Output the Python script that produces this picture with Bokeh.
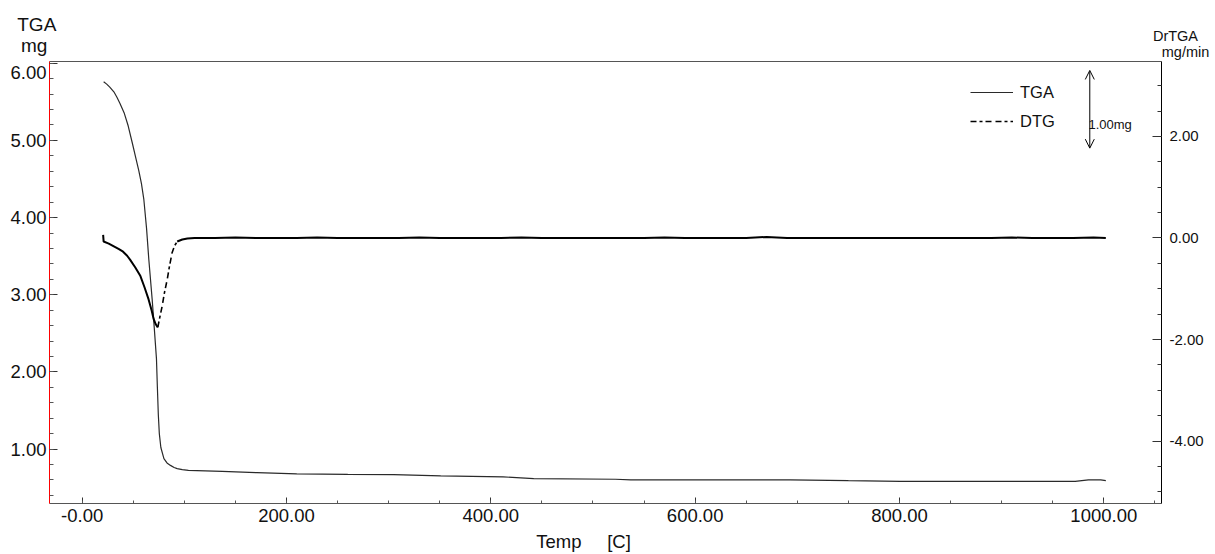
from bokeh.plotting import figure
from bokeh.models import (Range1d, LinearAxis, FixedTicker, SingleIntervalTicker, GridBox,
                          PrintfTickFormatter, Label, Legend, LegendItem, Arrow, OpenHead)
from bokeh.embed import file_html
from bokeh.resources import INLINE

# ---------------- data ----------------
tga_temp = [21, 24, 27, 31, 34, 37, 41, 45, 49, 52, 55.4, 58, 60.3, 63, 65.2, 68.5, 70.5, 72.7,
            73.6, 74.5, 75.5, 77, 80, 83, 86.4, 90, 93, 98, 104, 137, 171, 210, 260, 305, 351,
            412, 442, 522, 537, 600, 693, 750, 801, 900, 972, 985, 997, 1002]
tga_mg = [5.76, 5.73, 5.69, 5.63, 5.56, 5.48, 5.36, 5.19, 4.97, 4.80, 4.61, 4.44, 4.24, 3.86,
          3.46, 2.94, 2.58, 2.17, 1.80, 1.45, 1.20, 1.02, 0.875, 0.82, 0.788, 0.76, 0.746,
          0.733, 0.724, 0.711, 0.694, 0.677, 0.672, 0.668, 0.652, 0.639, 0.617, 0.608, 0.600,
          0.600, 0.600, 0.590, 0.582, 0.582, 0.582, 0.600, 0.600, 0.590]

dtg_temp = [20.5, 21, 26, 31, 36, 40, 44, 47, 52, 57, 61, 65, 68, 70, 72, 74, 76, 78.3, 80.5,
            83.2, 85.5, 88, 90.5, 93, 98, 103,
            110, 130, 150, 170, 190, 210, 230, 250, 270, 290, 310, 330, 350, 370, 390, 410,
            430, 450, 470, 490, 510, 530, 550, 570, 590, 610, 630, 650, 670, 690, 710, 730,
            750, 770, 790, 810, 830, 850, 870, 890, 910, 930, 950, 970, 990, 1002]
dtg_rate = [0.06, -0.07, -0.11, -0.165, -0.22, -0.27, -0.35, -0.43, -0.58, -0.75, -0.97, -1.21,
            -1.43, -1.60, -1.70, -1.76, -1.56, -1.34, -1.08, -0.82, -0.55, -0.29, -0.15, -0.07,
            -0.03, -0.01,
            0.00, 0.00, 0.01, 0.00, 0.00, 0.00, 0.01, 0.00, 0.00, 0.00, 0.00, 0.01, 0.00,
            0.00, 0.00, 0.00, 0.01, 0.00, 0.00, 0.00, 0.00, 0.00, 0.00, 0.01, 0.00, 0.00,
            0.00, 0.00, 0.02, 0.00, 0.00, 0.00, 0.00, 0.00, 0.00, 0.00, 0.00, 0.00, 0.00,
            0.00, 0.01, 0.00, 0.00, 0.00, 0.01, 0.00]

x_range = (-32.0, 1056.5)
tga_range = (0.294, 6.023)
dtg_range = (-5.229, 3.476)

scale_bar_temp = 986.3
scale_bar_mg = (4.90, 5.907)

NB = "\u00a0"
title_left = "TGA" + NB * 5 + "\n" + "mg" + NB * 6
title_right = NB * 7 + "DrTGA" + "\n" + NB * 12 + "mg/min"
x_title = "Temp" + NB * 5 + "[C]"

FONT = "Liberation Sans"
W, H = 1215, 554
BL, BR, BT, BB = 49, 54, 61, 49   # plot borders (frame 49..1161 x 61..505)

p = figure(width=W, height=H, output_backend="svg", toolbar_location=None,
           x_range=Range1d(*x_range), y_range=Range1d(*tga_range),
           min_border_left=BL, min_border_right=BR, min_border_top=BT, min_border_bottom=BB,
           background_fill_color="white", border_fill_color="white")
p.outline_line_color = None
p.xgrid.visible = False
p.ygrid.visible = False

p.extra_y_ranges = {"dtg": Range1d(*dtg_range)}

# bottom axis
xa = p.xaxis[0]
xa.ticker = SingleIntervalTicker(interval=200, num_minor_ticks=4)
xa.formatter = PrintfTickFormatter(format="%.2f")
xa.major_label_overrides = {0: "-0.00"}
xa.axis_line_color = "#555555"
xa.major_tick_in = 6
xa.major_tick_out = 0
xa.minor_tick_in = 3
xa.minor_tick_out = 0
xa.major_tick_line_color = "#333333"
xa.minor_tick_line_color = "#555555"
xa.major_label_text_font = FONT
xa.major_label_text_font_size = "18.5px"
xa.major_label_text_color = "#111111"
xa.major_label_standoff = 5

# left axis (its top label "6.00" is drawn a little lower, as in the original software)
ya = p.yaxis[0]
ya.ticker = SingleIntervalTicker(interval=1, num_minor_ticks=5)
ya.formatter = PrintfTickFormatter(format="%.2f")
ya.major_label_overrides = {6: ""}
ya.axis_line_color = "red"
ya.major_tick_in = 8
ya.major_tick_out = 0
ya.minor_tick_in = 4
ya.minor_tick_out = 0
ya.major_tick_line_color = "#333333"
ya.minor_tick_line_color = "#555555"
ya.major_label_text_font = FONT
ya.major_label_text_font_size = "18.5px"
ya.major_label_text_color = "#111111"
ya.major_label_standoff = 3

# right axis
ra = LinearAxis(y_range_name="dtg",
                ticker=SingleIntervalTicker(interval=2, num_minor_ticks=4),
                formatter=PrintfTickFormatter(format="%.2f"))
ra.axis_line_color = "black"
ra.major_tick_in = 9
ra.major_tick_out = 0
ra.minor_tick_in = 4
ra.minor_tick_out = 0
ra.major_tick_line_color = "#333333"
ra.minor_tick_line_color = "#333333"
ra.major_label_text_font = FONT
ra.major_label_text_font_size = "15px"
ra.major_label_text_color = "#111111"
ra.major_label_standoff = 8
p.add_layout(ra, "right")

# top border axis, also carrying the right-hand title "DrTGA / mg/min"
t_right = x_range[1] - 0.1
ta = LinearAxis(ticker=FixedTicker(ticks=[t_right], minor_ticks=[]))
ta.major_label_overrides = {t_right: title_right}
ta.axis_line_color = "#555555"
ta.major_tick_out = 0
ta.major_tick_in = 0
ta.minor_tick_out = 0
ta.major_tick_line_color = None
ta.major_label_text_font = FONT
ta.major_label_text_font_size = "14.5px"
ta.major_label_text_color = "#111111"
ta.major_label_text_line_height = 1.0
ta.major_label_standoff = 2
p.add_layout(ta, "above")

# curves
tga_r = p.line(tga_temp, tga_mg, line_color="#2a2a2a", line_width=1.2)
i_min = 15   # DTG minimum (74 C)
i_flat = 23  # back to baseline (93 C)
p.line(dtg_temp[:i_min + 1], dtg_rate[:i_min + 1], line_color="black", line_width=2,
       y_range_name="dtg")
dtg_r = p.line(dtg_temp[i_min:i_flat + 1], dtg_rate[i_min:i_flat + 1], line_color="black",
               line_width=1.6, line_dash="6 3 3 3 6 4", y_range_name="dtg")
p.line(dtg_temp[i_flat:], dtg_rate[i_flat:], line_color="black", line_width=2,
       y_range_name="dtg")

legend = Legend(items=[LegendItem(label="TGA", renderers=[tga_r]),
                       LegendItem(label="DTG", renderers=[dtg_r])],
                location=(921, 372), border_line_color=None, background_fill_alpha=0,
                padding=0, margin=0, spacing=9, glyph_width=43, glyph_height=20,
                label_height=20, label_standoff=7, label_text_font=FONT,
                label_text_font_size="16.5px", label_text_color="#111111")
p.add_layout(legend)

# scale bar arrow
p.add_layout(Arrow(start=OpenHead(size=9, line_width=1), end=OpenHead(size=9, line_width=1),
                   x_start=scale_bar_temp, y_start=scale_bar_mg[0],
                   x_end=scale_bar_temp, y_end=scale_bar_mg[1], line_width=1, line_color="black"))
p.add_layout(Label(x=985, y=5.206, text="1.00mg", text_font=FONT, text_font_size="13px",
                   text_color="#111111", text_baseline="alphabetic", text_align="left"))

# transparent overlay of the same size; its frame coincides with the main frame and its
# (invisible-lined) axes carry the remaining texts that sit in the margins
ov = figure(width=W, height=H, output_backend="svg", toolbar_location=None,
            x_axis_location=None, y_axis_location=None, min_border=0,
            x_range=Range1d(BL, W - BR), y_range=Range1d(H - BB, BT),
            background_fill_color=None, border_fill_color=None)
ov.outline_line_color = None
ov.xgrid.visible = False
ov.ygrid.visible = False


def text_axis(ticks, labels, size, standoff, **kw):
    ax = LinearAxis(ticker=FixedTicker(ticks=ticks, minor_ticks=[]), **kw)
    ax.major_label_overrides = dict(zip(ticks, labels))
    ax.axis_line_color = None
    ax.major_tick_line_color = None
    ax.minor_tick_line_color = None
    ax.major_tick_in = 0
    ax.major_tick_out = 0
    ax.minor_tick_in = 0
    ax.minor_tick_out = 0
    ax.major_label_text_font = FONT
    ax.major_label_text_font_size = size
    ax.major_label_text_color = "#111111"
    ax.major_label_text_line_height = 1.0
    ax.major_label_standoff = standoff
    return ax


ov.add_layout(text_axis([BL + 0.5], [title_left], "19px", 6), "above")
ov.add_layout(text_axis([72], ["6.00"], "18.5px", 3), "left")
ov.add_layout(text_axis([583], [x_title], "18.5px", 27), "below")

layout = GridBox(children=[(p, 0, 0), (ov, 0, 0)])

open("out.html", "w").write(file_html(layout, INLINE))
